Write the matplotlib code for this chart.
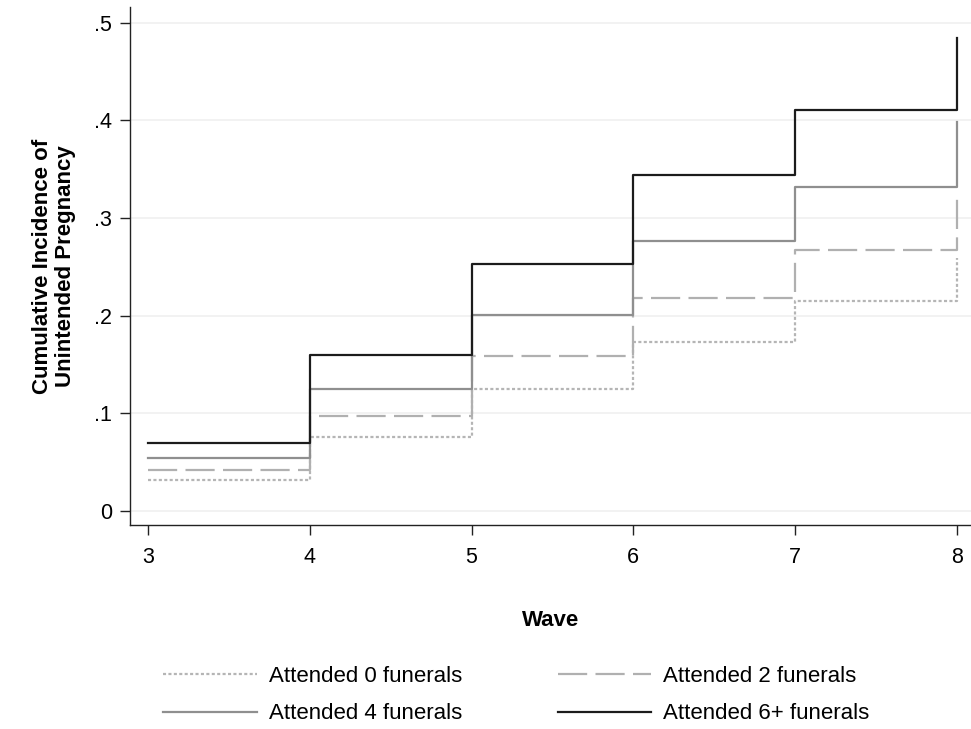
import matplotlib
matplotlib.use("Agg")
import matplotlib.pyplot as plt

plt.rcParams['font.family'] = ['Liberation Sans', 'DejaVu Sans']
plt.rcParams['lines.scale_dashes'] = False

waves = [3, 4, 5, 6, 7, 8]
labels = ["Attended 0 funerals", "Attended 2 funerals",
          "Attended 4 funerals", "Attended 6+ funerals"]
f0 = [0.032, 0.076, 0.125, 0.173, 0.215, 0.259]
f2 = [0.042, 0.097, 0.159, 0.218, 0.267, 0.321]
f4 = [0.054, 0.125, 0.201, 0.276, 0.332, 0.398]
f6 = [0.070, 0.160, 0.253, 0.344, 0.411, 0.484]
yticks = [0, 0.1, 0.2, 0.3, 0.4, 0.5]
ytick_labels = ["0", ".1", ".2", ".3", ".4", ".5"]

fig = plt.figure(figsize=(9.71, 7.29), dpi=100)
ax = fig.add_axes([130/971, (729-525)/729, 841/971, 518/729])

styles = [
    dict(color="#b5b5b5", dashes=(2.2, 1.7)),
    dict(color="#b0b0b0", dashes=(21, 6)),
    dict(color="#8f8f8f", linestyle="-"),
    dict(color="#1c1c1c", linestyle="-"),
]
handles = []
for vals, lab, st in zip([f0, f2, f4, f6], labels, styles):
    h, = ax.step(waves, vals, where="post", lw=1.6, label=lab, **st)
    handles.append(h)

ax.set_xlim(2.889, 8.087)
ax.set_ylim(-0.0143, 0.516)
ax.set_yticks(yticks)
ax.set_yticklabels(ytick_labels)
ax.set_xticks(waves)
ax.grid(axis="y", color="#f0f0f0", lw=1.2)
ax.set_axisbelow(True)
for s in ["top", "right"]:
    ax.spines[s].set_visible(False)
for s in ["left", "bottom"]:
    ax.spines[s].set_linewidth(1.0)
    ax.spines[s].set_color("#222222")
ax.tick_params(axis="both", labelsize=15.5, length=7, width=1.0, color="#222222")
ax.tick_params(axis="x", pad=9)
ax.tick_params(axis="y", pad=6)
ax.set_xlabel("Wave", fontsize=16, fontweight="bold", labelpad=30)
ax.set_ylabel("Cumulative Incidence of\nUnintended Pregnancy", fontsize=16,
              fontweight="bold", labelpad=13, linespacing=1.1)

order = [0, 2, 1, 3]
fig.legend(handles=[handles[i] for i in order], labels=[labels[i] for i in order],
           loc="center", bbox_to_anchor=(0.532, 0.0466), ncol=2, frameon=False,
           fontsize=16, handlelength=4.2, handletextpad=0.55, columnspacing=4.3,
           labelspacing=0.75)

fig.savefig("out.png", dpi=100, facecolor="white")
